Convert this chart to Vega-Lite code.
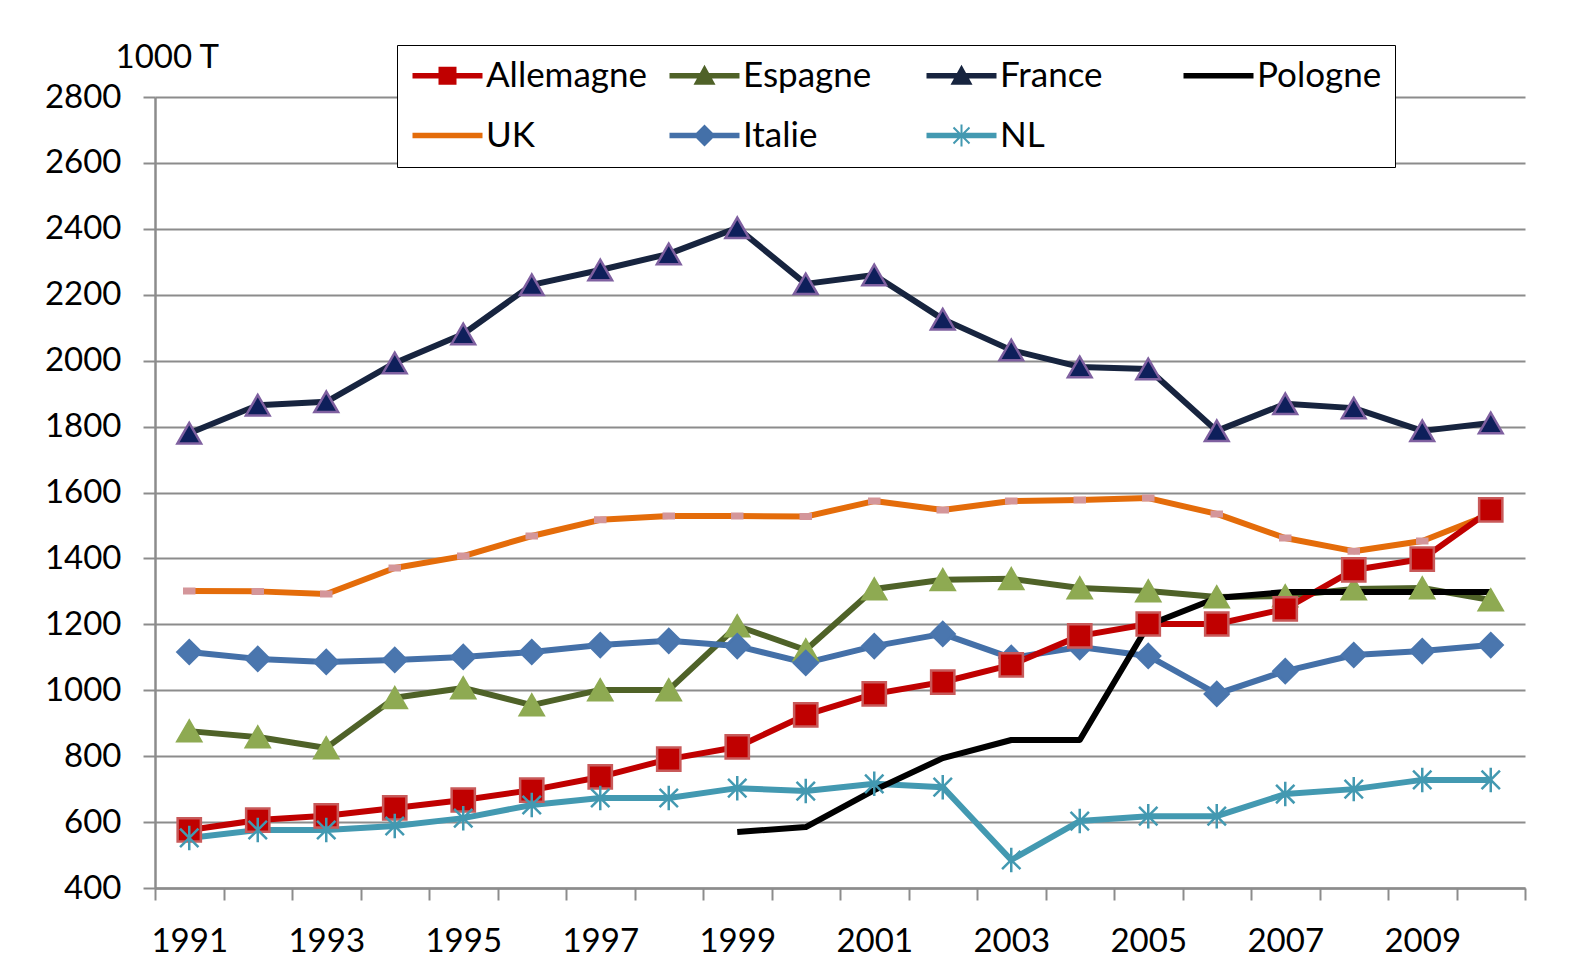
{
  "$schema": "https://vega.github.io/schema/vega-lite/v6.json",
  "width": 1370,
  "height": 791,
  "autosize": {"type": "none"},
  "padding": {"left": 155, "top": 97, "right": 48, "bottom": 72},
  "background": "white",
  "config": {
    "font": "Lato",
    "view": {"stroke": null},
    "axis": {"labelFont": "Lato", "labelFontSize": 33, "labelColor": "black", "titleFont": "Lato"}
  },
  "datasets": {
    "main": [
      {"year":1991,"country":"France","value":1780},{"year":1992,"country":"France","value":1865},{"year":1993,"country":"France","value":1875},{"year":1994,"country":"France","value":1993},{"year":1995,"country":"France","value":2081},{"year":1996,"country":"France","value":2230},{"year":1997,"country":"France","value":2275},{"year":1998,"country":"France","value":2324},{"year":1999,"country":"France","value":2403},{"year":2000,"country":"France","value":2233},{"year":2001,"country":"France","value":2260},{"year":2002,"country":"France","value":2126},{"year":2003,"country":"France","value":2032},{"year":2004,"country":"France","value":1981},{"year":2005,"country":"France","value":1975},{"year":2006,"country":"France","value":1787},{"year":2007,"country":"France","value":1869},{"year":2008,"country":"France","value":1856},{"year":2009,"country":"France","value":1787},{"year":2010,"country":"France","value":1811},
      {"year":1991,"country":"UK","value":1301},{"year":1992,"country":"UK","value":1300},{"year":1993,"country":"UK","value":1292},{"year":1994,"country":"UK","value":1371},{"year":1995,"country":"UK","value":1407},{"year":1996,"country":"UK","value":1468},{"year":1997,"country":"UK","value":1517},{"year":1998,"country":"UK","value":1529},{"year":1999,"country":"UK","value":1529},{"year":2000,"country":"UK","value":1527},{"year":2001,"country":"UK","value":1574},{"year":2002,"country":"UK","value":1547},{"year":2003,"country":"UK","value":1574},{"year":2004,"country":"UK","value":1577},{"year":2005,"country":"UK","value":1583},{"year":2006,"country":"UK","value":1535},{"year":2007,"country":"UK","value":1462},{"year":2008,"country":"UK","value":1422},{"year":2009,"country":"UK","value":1453},{"year":2010,"country":"UK","value":1535},
      {"year":1991,"country":"Espagne","value":876},{"year":1992,"country":"Espagne","value":858},{"year":1993,"country":"Espagne","value":825},{"year":1994,"country":"Espagne","value":977},{"year":1995,"country":"Espagne","value":1007},{"year":1996,"country":"Espagne","value":955},{"year":1997,"country":"Espagne","value":1001},{"year":1998,"country":"Espagne","value":1001},{"year":1999,"country":"Espagne","value":1195},{"year":2000,"country":"Espagne","value":1122},{"year":2001,"country":"Espagne","value":1307},{"year":2002,"country":"Espagne","value":1335},{"year":2003,"country":"Espagne","value":1338},{"year":2004,"country":"Espagne","value":1310},{"year":2005,"country":"Espagne","value":1301},{"year":2006,"country":"Espagne","value":1283},{"year":2007,"country":"Espagne","value":1286},{"year":2008,"country":"Espagne","value":1307},{"year":2009,"country":"Espagne","value":1310},{"year":2010,"country":"Espagne","value":1274},
      {"year":1991,"country":"Italie","value":1116},{"year":1992,"country":"Italie","value":1095},{"year":1993,"country":"Italie","value":1086},{"year":1994,"country":"Italie","value":1092},{"year":1995,"country":"Italie","value":1101},{"year":1996,"country":"Italie","value":1116},{"year":1997,"country":"Italie","value":1137},{"year":1998,"country":"Italie","value":1150},{"year":1999,"country":"Italie","value":1134},{"year":2000,"country":"Italie","value":1083},{"year":2001,"country":"Italie","value":1134},{"year":2002,"country":"Italie","value":1171},{"year":2003,"country":"Italie","value":1098},{"year":2004,"country":"Italie","value":1131},{"year":2005,"country":"Italie","value":1104},{"year":2006,"country":"Italie","value":989},{"year":2007,"country":"Italie","value":1058},{"year":2008,"country":"Italie","value":1107},{"year":2009,"country":"Italie","value":1119},{"year":2010,"country":"Italie","value":1137},
      {"year":1991,"country":"Allemagne","value":576},{"year":1992,"country":"Allemagne","value":606},{"year":1993,"country":"Allemagne","value":619},{"year":1994,"country":"Allemagne","value":643},{"year":1995,"country":"Allemagne","value":667},{"year":1996,"country":"Allemagne","value":697},{"year":1997,"country":"Allemagne","value":737},{"year":1998,"country":"Allemagne","value":791},{"year":1999,"country":"Allemagne","value":828},{"year":2000,"country":"Allemagne","value":925},{"year":2001,"country":"Allemagne","value":989},{"year":2002,"country":"Allemagne","value":1025},{"year":2003,"country":"Allemagne","value":1077},{"year":2004,"country":"Allemagne","value":1165},{"year":2005,"country":"Allemagne","value":1201},{"year":2006,"country":"Allemagne","value":1201},{"year":2007,"country":"Allemagne","value":1247},{"year":2008,"country":"Allemagne","value":1365},{"year":2009,"country":"Allemagne","value":1398},{"year":2010,"country":"Allemagne","value":1547},
      {"year":1991,"country":"NL","value":552},{"year":1992,"country":"NL","value":576},{"year":1993,"country":"NL","value":576},{"year":1994,"country":"NL","value":588},{"year":1995,"country":"NL","value":612},{"year":1996,"country":"NL","value":652},{"year":1997,"country":"NL","value":673},{"year":1998,"country":"NL","value":673},{"year":1999,"country":"NL","value":703},{"year":2000,"country":"NL","value":694},{"year":2001,"country":"NL","value":716},{"year":2002,"country":"NL","value":706},{"year":2003,"country":"NL","value":485},{"year":2004,"country":"NL","value":603},{"year":2005,"country":"NL","value":618},{"year":2006,"country":"NL","value":618},{"year":2007,"country":"NL","value":685},{"year":2008,"country":"NL","value":700},{"year":2009,"country":"NL","value":728},{"year":2010,"country":"NL","value":728},
      {"year":1999,"country":"Pologne","value":570},{"year":2000,"country":"Pologne","value":585},{"year":2001,"country":"Pologne","value":697},{"year":2002,"country":"Pologne","value":794},{"year":2003,"country":"Pologne","value":849},{"year":2004,"country":"Pologne","value":849},{"year":2005,"country":"Pologne","value":1198},{"year":2006,"country":"Pologne","value":1280},{"year":2007,"country":"Pologne","value":1298},{"year":2008,"country":"Pologne","value":1298},{"year":2009,"country":"Pologne","value":1298},{"year":2010,"country":"Pologne","value":1298}
    ]
  },
  "data": {"name": "main"},
  "encoding": {
    "x": {
      "field": "year", "type": "ordinal",
      "scale": {"type": "band", "paddingInner": 0, "paddingOuter": 0},
      "axis": {
        "title": null, "labelAngle": 0, "grid": false,
        "domainColor": "#8c8c8c", "domainWidth": 2.5,
        "tickBand": "extent", "tickColor": "#8c8c8c", "tickWidth": 2, "tickSize": 12,
        "labelPadding": 25,
        "labelExpr": "datum.value % 2 == 1 ? datum.label : ''"
      }
    },
    "y": {
      "field": "value", "type": "quantitative",
      "scale": {"domain": [400, 2800], "nice": false, "zero": false},
      "axis": {
        "values": [400,600,800,1000,1200,1400,1600,1800,2000,2200,2400,2600,2800],
        "format": "d",
        "title": "1000 T", "titleAngle": 0, "titleAlign": "left", "titleBaseline": "middle",
        "titleX": -40, "titleY": -40, "titleFontSize": 33, "titleFontWeight": "normal", "titleColor": "black",
        "domainColor": "#8c8c8c", "domainWidth": 2.5,
        "tickColor": "#8c8c8c", "tickWidth": 2, "tickSize": 12,
        "gridColor": "#8c8c8c", "gridWidth": 2,
        "labelPadding": 22
      }
    }
  },
  "layer": [
    {
      "mark": {"type": "line", "strokeWidth": 6, "strokeJoin": "round", "strokeCap": "butt"},
      "encoding": {
        "stroke": {
          "field": "country", "type": "nominal", "legend": null,
          "scale": {
            "domain": ["Allemagne","Espagne","France","Pologne","UK","Italie","NL"],
            "range": ["#C00000","#4F6228","#17243F","#000000","#E46C0A","#4470A8","#4399B1"]
          }
        }
      }
    },
    {
      "transform": [{"filter": "datum.country != 'Pologne'"}],
      "mark": {"type": "point", "filled": true, "opacity": 1, "strokeWidth": 2.5, "strokeOpacity": 1},
      "encoding": {
        "fill": {
          "field": "country", "type": "nominal", "legend": null,
          "scale": {
            "domain": ["Allemagne","Espagne","France","Pologne","UK","Italie","NL"],
            "range": ["#C00000","#8EAA52","#0E1F5B","#000000","#D4969A","#4A76AE","#4399B1"]
          }
        },
        "stroke": {
          "field": "country", "type": "nominal", "legend": null,
          "scale": {
            "domain": ["Allemagne","Espagne","France","Pologne","UK","Italie","NL"],
            "range": ["#C85A5A","#8EAA52","#7F60A0","#000000","#D4969A","#4A76AE","#4399B1"]
          }
        },
        "shape": {
          "field": "country", "type": "nominal", "legend": null,
          "scale": {
            "domain": ["Allemagne","Espagne","France","Pologne","UK","Italie","NL"],
            "range": ["square","triangle-up","triangle-up","circle","M-1,-0.45H1V0.45H-1Z","diamond","M0,-1L0,1M-0.75,-0.75L0.75,0.75M-0.75,0.75L0.75,-0.75"]
          }
        },
        "size": {
          "field": "country", "type": "nominal", "legend": null,
          "scale": {
            "type": "ordinal",
            "domain": ["Allemagne","Espagne","France","Pologne","UK","Italie","NL"],
            "range": [540, 560, 560, 10, 100, 560, 600]
          }
        }
      }
    },
    {
      "transform": [{"filter": "datum.value < 0"}],
      "mark": {"type": "point", "filled": true, "opacity": 1},
      "encoding": {
        "color": {
          "field": "country", "type": "nominal",
          "scale": {
            "domain": ["Allemagne","Espagne","France","Pologne","UK","Italie","NL"],
            "range": ["#C00000","#4F6228","#17243F","#000000","#E46C0A","#4470A8","#4399B1"]
          },
          "legend": {
            "title": null, "orient": "none", "legendX": 242, "legendY": -52, "direction": "horizontal",
            "columns": 4, "gridAlign": "all", "columnPadding": 19, "rowPadding": 24,
            "padding": 13, "strokeColor": "black", "fillColor": "white",
            "labelFont": "Lato", "labelFontSize": 35, "labelColor": "black", "labelLimit": 400,
            "labelOffset": 41, "symbolSize": 400, "symbolStrokeWidth": 0, "symbolOpacity": 1
          }
        },
        "shape": {
          "field": "country", "type": "nominal",
          "scale": {
            "domain": ["Allemagne","Espagne","France","Pologne","UK","Italie","NL"],
            "range": [
              "M-1.5,-0.27H5.5V0.27H-1.5Z M1.1,-0.9H2.9V0.9H1.1Z",
              "M-1.5,-0.27H5.5V0.27H-1.5Z M2,-1.1L3.1,0.9H0.9Z",
              "M-1.5,-0.27H5.5V0.27H-1.5Z M2,-1.1L3.1,0.9H0.9Z",
              "M-1.5,-0.27H5.5V0.27H-1.5Z",
              "M-1.5,-0.27H5.5V0.27H-1.5Z",
              "M-1.5,-0.27H5.5V0.27H-1.5Z M2,-1.1L3.1,0L2,1.1L0.9,0Z",
              "M-1.5,-0.27H5.5V0.27H-1.5Z M1.9,-1.1H2.1V1.1H1.9Z M1.27,-0.87L2.87,0.73L2.73,0.87L1.13,-0.73Z M1.13,0.73L2.73,-0.87L2.87,-0.73L1.27,0.87Z"
            ]
          },
          "legend": {
            "title": null, "orient": "none", "legendX": 242, "legendY": -52, "direction": "horizontal",
            "columns": 4, "gridAlign": "all", "columnPadding": 19, "rowPadding": 24,
            "padding": 13, "strokeColor": "black", "fillColor": "white",
            "labelFont": "Lato", "labelFontSize": 35, "labelColor": "black", "labelLimit": 400,
            "labelOffset": 41, "symbolSize": 400, "symbolStrokeWidth": 0, "symbolOpacity": 1
          }
        }
      }
    }
  ],
  "resolve": {"scale": {"shape": "independent", "stroke": "independent", "color": "independent"}}
}
